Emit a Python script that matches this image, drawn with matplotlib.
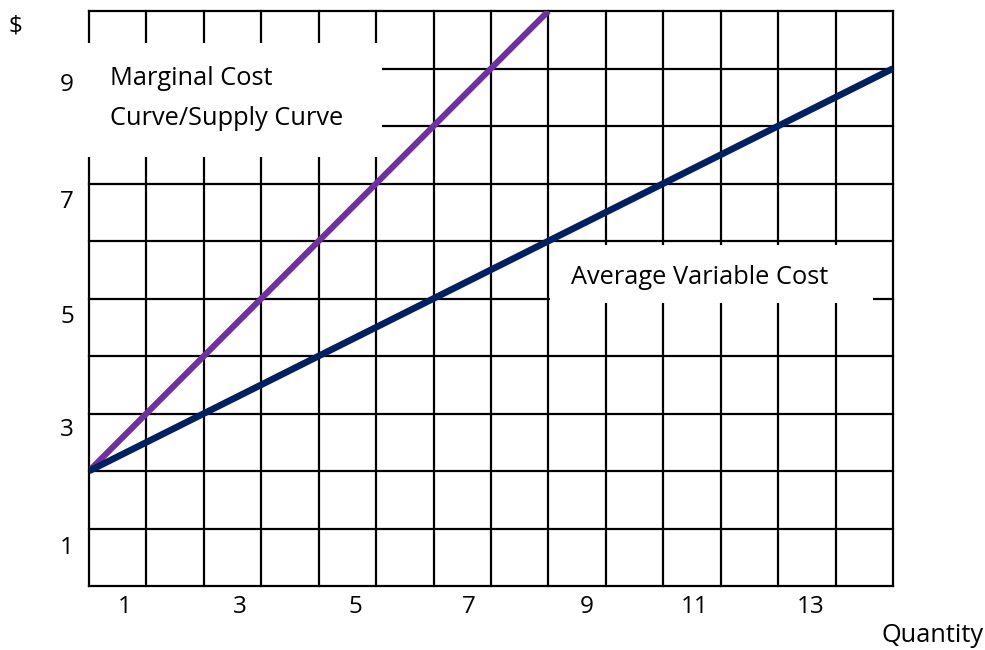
"""Marginal cost vs average variable cost on a gridded chart."""

import numpy as np
import matplotlib.pyplot as plt
import matplotlib.patches as patches

plt.rcParams['font.family'] = ['Open Sans', 'DejaVu Sans']

# Curve end points (quantity, $)
mc_q = [0, 8]
mc_cost = [2, 10]
avc_q = [0, 14]
avc_cost = [2, 9]

# Axis labels, drawn slightly off the grid lines as in the original
x_labels = ["1", "3", "5", "7", "9", "11", "13"]
x_label_pos = [0.63, 2.63, 4.63, 6.61, 8.66, 10.54, 12.57]
y_labels = ["9", "7", "5", "3", "1"]
y_label_pos = [8.71, 6.68, 4.68, 2.71, 0.66]

W, H = 985, 650
fig = plt.figure(figsize=(W / 100, H / 100), dpi=100)
ax = fig.add_axes([89 / W, (H - 586) / H, (893 - 89) / W, (586 - 11) / H])
ax.set_xlim(0, 14)
ax.set_ylim(0, 10)

# grid
for x in range(15):
    ax.plot([x, x], [0, 10], color="black", linewidth=1.6, zorder=1, clip_on=False)
for y in range(11):
    ax.plot([0, 14], [y, y], color="black", linewidth=1.6, zorder=1, clip_on=False)

for s in ax.spines.values():
    s.set_visible(False)
ax.set_xticks([])
ax.set_yticks([])

# curves
ax.plot(mc_q, mc_cost, color="#7030A0", linewidth=4.4, zorder=3,
        solid_capstyle="butt")
ax.plot(avc_q, avc_cost, color="#002060", linewidth=4.8, zorder=3,
        solid_capstyle="butt")

# white label boxes covering the grid
ax.add_patch(patches.Rectangle((-0.1, 7.46), 5.2, 1.98, facecolor="white",
                               edgecolor="none", zorder=2, clip_on=False))
ax.add_patch(patches.Rectangle((8.03, 4.92), 5.62, 1.01, facecolor="white",
                               edgecolor="none", zorder=2, clip_on=False))

ax.text(0.36, 8.83, "Marginal Cost", fontsize=18.3, ha="left", va="center", zorder=4)
ax.text(0.36, 8.13, "Curve/Supply Curve", fontsize=18.3, ha="left", va="center", zorder=4)
ax.text(8.4, 5.36, "Average Variable Cost", fontsize=18.3, ha="left", va="center", zorder=4)

for lab, pos in zip(x_labels, x_label_pos):
    ax.text(pos, -0.36, lab, fontsize=17.5, ha="center", va="center", clip_on=False)
for lab, pos in zip(y_labels, y_label_pos):
    ax.text(-0.38, pos, lab, fontsize=17.5, ha="center", va="center", clip_on=False)

fig.text(15 / W, 1 - 27 / H, "$", fontsize=17.5, ha="center", va="center")
fig.text(933 / W, 1 - 636 / H, "Quantity", fontsize=18.3, ha="center", va="center")

fig.savefig("out.png", dpi=100)
